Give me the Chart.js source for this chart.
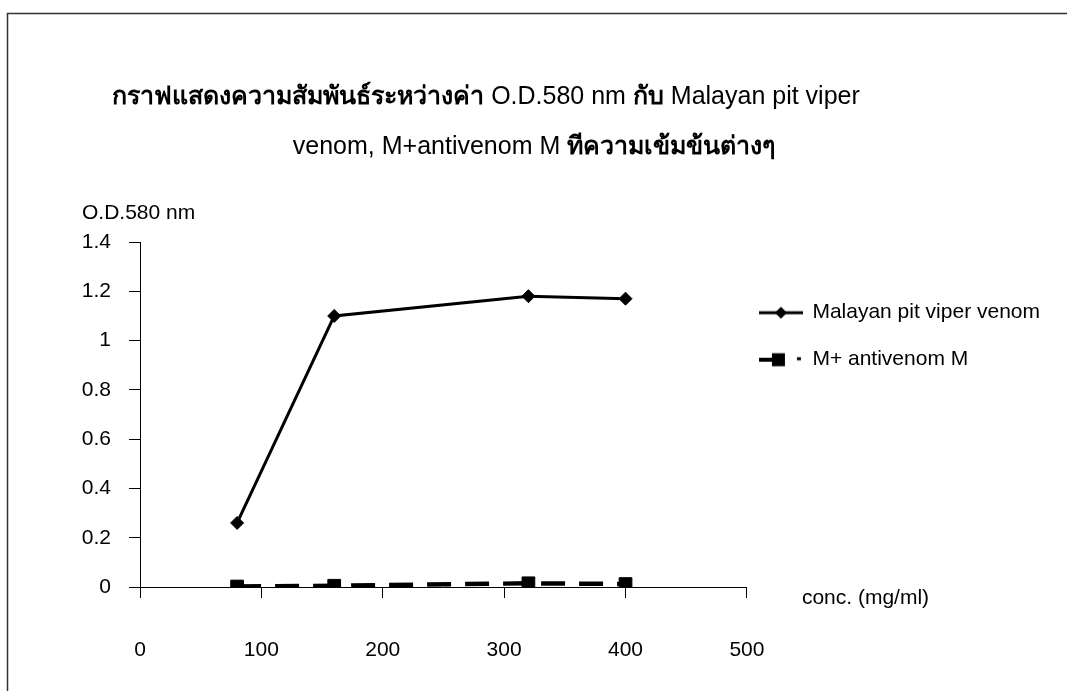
<!DOCTYPE html>
<html>
<head>
<meta charset="utf-8">
<script src="https://cdn.jsdelivr.net/npm/chart.js@4.4.1/dist/chart.umd.min.js"></script>
<style>
  html, body { margin: 0; padding: 0; background: #fff; }
  #wrap { width: 1067px; height: 691px; position: relative; }
</style>
</head>
<body>
<div id="wrap"><canvas id="c" width="1067" height="691"></canvas></div>
<script>
// Venom concentration (mg/ml) on the x axis
const concentrations = [80, 160, 320, 400];
// O.D. at 580 nm
const venomOD = [0.26, 1.10, 1.18, 1.17];
const antivenomOD = [0.002, 0.005, 0.015, 0.012];
const seriesNames = ['Malayan pit viper venom', 'M+ antivenom M'];
const titleLines = [
  'กราฟแสดงความสัมพันธ์ระหว่างค่า O.D.580 nm กับ Malayan pit viper',
  'venom, M+antivenom M ทีความเข้มข้นต่างๆ'
];
const yAxisLabel = 'O.D.580 nm';
const xAxisLabel = 'conc. (mg/ml)';

const FONT = "'Liberation Sans', Arial, 'Noto Sans', sans-serif";
Chart.defaults.font.family = FONT;
Chart.defaults.color = '#000';

const toPoints = (ys) => concentrations.map((c, i) => ({ x: c, y: ys[i] }));

// Legend glyphs: a short line with the series marker on it
function legendGlyph(kind) {
  const cv = document.createElement('canvas');
  cv.width = 44; cv.height = 16;
  const g = cv.getContext('2d');
  g.fillStyle = '#000'; g.strokeStyle = '#000';
  if (kind === 'diamond') {
    g.lineWidth = 3;
    g.beginPath(); g.moveTo(0, 8); g.lineTo(44, 8); g.stroke();
    g.beginPath();
    g.moveTo(16, 8); g.lineTo(22, 2); g.lineTo(28, 8); g.lineTo(22, 14);
    g.closePath(); g.fill();
  } else {
    g.lineWidth = 4;
    g.beginPath(); g.moveTo(0, 8); g.lineTo(14, 8); g.stroke();
    g.fillRect(13, 1.5, 13, 13);
    g.lineWidth = 3;
    g.beginPath(); g.moveTo(38, 7); g.lineTo(42, 7); g.stroke();
  }
  return cv;
}
const glyphs = [legendGlyph('diamond'), legendGlyph('square')];

// Title: Thai runs in bold, Latin runs in regular weight
function drawMixedLine(ctx, text, cx, cy, size) {
  const runs = text.split(/([\u0E00-\u0E7F]+)/).filter(s => s.length);
  const fontFor = (s) => (/[\u0E00-\u0E7F]/.test(s) ? 'bold ' : '') + size + 'px ' + FONT;
  let total = 0;
  runs.forEach(r => { ctx.font = fontFor(r); total += ctx.measureText(r).width; });
  let x = cx - total / 2;
  runs.forEach(r => {
    ctx.font = fontFor(r);
    ctx.fillText(r, x, cy);
    x += ctx.measureText(r).width;
  });
}

// Page frame, title and free-standing axis captions
const captions = {
  id: 'captions',
  beforeDraw(chart) {
    const ctx = chart.ctx;
    ctx.save();
    ctx.strokeStyle = '#333';
    ctx.lineWidth = 1.5;
    ctx.beginPath();
    ctx.moveTo(7.5, 691); ctx.lineTo(7.5, 13.5); ctx.lineTo(1067, 13.5);
    ctx.stroke();
    ctx.restore();
  },
  afterDraw(chart) {
    const { ctx, chartArea, scales } = chart;
    ctx.save();
    ctx.fillStyle = '#000';
    ctx.textBaseline = 'middle';
    ctx.textAlign = 'left';
    drawMixedLine(ctx, titleLines[0], 486, 97, 25);
    drawMixedLine(ctx, titleLines[1], 534, 147, 25);
    ctx.font = '21px ' + FONT;
    ctx.fillText(yAxisLabel, chartArea.left - 58, chartArea.top - 29);
    ctx.fillText(xAxisLabel, chartArea.right + 55, scales.y.getPixelForValue(0) + 11);
    ctx.restore();
  }
};

new Chart(document.getElementById('c'), {
  type: 'line',
  data: {
    datasets: [
      {
        label: seriesNames[0],
        data: toPoints(venomOD),
        borderColor: '#000',
        backgroundColor: '#000',
        borderWidth: 3,
        pointStyle: 'rectRot',
        pointRadius: 6.5,
        pointBorderWidth: 1,
        tension: 0
      },
      {
        label: seriesNames[1],
        data: toPoints(antivenomOD),
        borderColor: '#000',
        backgroundColor: '#000',
        borderWidth: 4.5,
        borderDash: [24, 14],
        pointStyle: 'rect',
        pointRadius: 9,
        pointBorderWidth: 1,
        tension: 0
      }
    ]
  },
  options: {
    responsive: false,
    animation: false,
    // the negative left inset widens the room the layout grants to the right-hand legend
    layout: { padding: { left: -170, right: 17, top: 242, bottom: 0 } },
    plugins: {
      title: { display: false },
      legend: {
        position: 'right',
        align: 'start',
        fullSize: false,
        title: { display: true, text: '', font: { size: 21 }, padding: { top: 22, bottom: 0 } },
        labels: {
          usePointStyle: true,
          pointStyleWidth: 42,
          padding: 13,
          font: { size: 21, lineHeight: 34 / 21 },
          color: '#000',
          generateLabels(chart) {
            return chart.data.datasets.map((ds, i) => ({
              text: [ds.label],
              pointStyle: glyphs[i],
              fillStyle: '#000',
              strokeStyle: '#000',
              lineWidth: 0,
              datasetIndex: i,
              hidden: false
            }));
          }
        }
      },
      tooltip: { enabled: false }
    },
    scales: {
      x: {
        type: 'linear',
        min: 0,
        max: 500,
        ticks: { stepSize: 100, padding: 40, font: { size: 21 }, color: '#000', maxRotation: 0 },
        grid: { display: true, drawOnChartArea: false, drawTicks: true, tickLength: 11, color: '#000', lineWidth: 1 },
        border: { display: true, color: '#000', width: 1 },
        afterFit(scale) { scale.height = 104; }
      },
      y: {
        min: 0,
        max: 1.4,
        ticks: {
          stepSize: 0.2,
          padding: 18,
          font: { size: 21 },
          color: '#000',
          callback: (v) => String(parseFloat(Number(v).toFixed(1)))
        },
        grid: { display: true, drawOnChartArea: false, drawTicks: true, tickLength: 11, color: '#000', lineWidth: 1 },
        border: { display: true, color: '#000', width: 1 },
        afterFit(scale) { scale.width = 310; }
      }
    }
  },
  plugins: [captions]
});
</script>
</body>
</html>
